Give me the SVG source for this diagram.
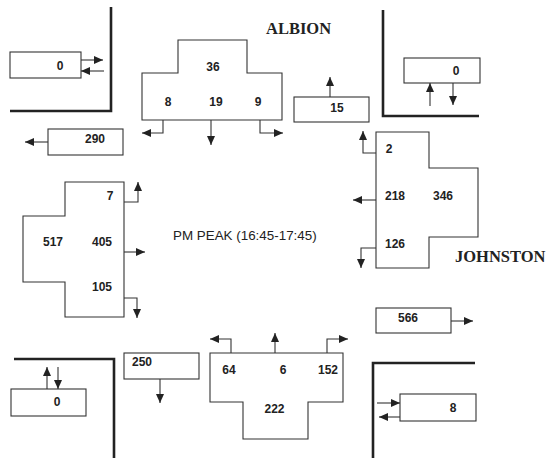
<svg xmlns="http://www.w3.org/2000/svg" width="550" height="458" viewBox="0 0 550 458">
<style>
.bg{fill:#fff}
.box{fill:#fff;stroke:#333;stroke-width:1.1}
.curb{fill:none;stroke:#222;stroke-width:2.6}
.num{font-family:"Liberation Sans",Arial,sans-serif;font-size:12px;font-weight:bold;fill:#222;text-anchor:middle}
.lbl{font-family:"Liberation Sans",Arial,sans-serif;font-size:13.4px;fill:#222}
.street{font-family:"Liberation Serif","Times New Roman",serif;font-size:16.5px;font-weight:bold;fill:#222}
.arr{fill:none;stroke:#333;stroke-width:1.1;marker-end:url(#ah)}
</style>
<defs>
<marker id="ah" markerUnits="userSpaceOnUse" markerWidth="9" markerHeight="8" refX="9" refY="4" orient="auto">
<path d="M0,0 L9,4 L0,8 z" fill="#222"/>
</marker>
</defs>
<rect class="bg" x="0" y="0" width="550" height="458"/>
<g id="curbs">
<path class="curb" d="M111,7 V111 H10"/>
<path class="curb" d="M383,10 V116 H479"/>
<path class="curb" d="M14,359 H114 V458"/>
<path class="curb" d="M475,363 H373 V458"/>
</g>
<g id="street-names">
<text class="street" x="266" y="34">ALBION</text>
<text class="street" x="455" y="262">JOHNSTON</text>
<text class="lbl" x="173" y="240">PM PEAK (16:45-17:45)</text>
</g>
<g id="node-nw-ped">
<rect class="box" x="10" y="52" width="71" height="26"/>
<text class="num" x="60" y="69.5">0</text>
</g>
<g id="node-290">
<rect class="box" x="48" y="129" width="75" height="26"/>
<text class="num" x="95" y="143">290</text>
</g>
<g id="node-albion-sb">
<path class="box" d="M178,40 H247 V73 H282 V120 H142 V73 H178 Z"/>
<text class="num" x="213" y="71">36</text>
<text class="num" x="168" y="106">8</text>
<text class="num" x="216" y="106">19</text>
<text class="num" x="258" y="106">9</text>
</g>
<g id="node-15">
<rect class="box" x="294" y="97" width="75" height="25"/>
<text class="num" x="337" y="112">15</text>
</g>
<g id="node-ne-ped">
<rect class="box" x="404" y="58" width="76" height="25"/>
<text class="num" x="456" y="75">0</text>
</g>
<g id="node-johnston-wb">
<path class="box" d="M376,132 H429 V168 H478 V237 H429 V268 H376 Z"/>
<text class="num" x="389" y="153">2</text>
<text class="num" x="395" y="200">218</text>
<text class="num" x="443" y="200">346</text>
<text class="num" x="395" y="248">126</text>
</g>
<g id="node-johnston-eb">
<path class="box" d="M65,182 H124 V317 H65 V282 H23 V216 H65 Z"/>
<text class="num" x="110" y="200">7</text>
<text class="num" x="53" y="246">517</text>
<text class="num" x="102" y="246">405</text>
<text class="num" x="102" y="291">105</text>
</g>
<g id="node-sw-ped">
<rect class="box" x="11" y="389" width="75" height="27"/>
<text class="num" x="57" y="406">0</text>
</g>
<g id="node-250">
<rect class="box" x="124" y="353" width="75" height="26"/>
<text class="num" x="132" y="366" style="text-anchor:start">250</text>
</g>
<g id="node-albion-nb">
<path class="box" d="M210,353 H343 V402 H308 V439 H243 V402 H210 Z"/>
<text class="num" x="229" y="374">64</text>
<text class="num" x="283" y="374">6</text>
<text class="num" x="328" y="374">152</text>
<text class="num" x="274.5" y="413">222</text>
</g>
<g id="node-566">
<rect class="box" x="376" y="308" width="75" height="25"/>
<text class="num" x="408" y="322">566</text>
</g>
<g id="node-se-ped">
<rect class="box" x="400" y="394" width="76" height="27"/>
<text class="num" x="453" y="412">8</text>
</g>
<g id="connectors">
<path class="arr" d="M81,60 H103"/>
<path class="arr" d="M104,71 H81"/>
<path class="arr" d="M48,142 H25"/>
<path class="arr" d="M163,120 V133 H142"/>
<path class="arr" d="M211,120 V145"/>
<path class="arr" d="M260,120 V133 H283"/>
<path class="arr" d="M330,97 V77"/>
<path class="arr" d="M430,106 V83"/>
<path class="arr" d="M453,83 V105"/>
<path class="arr" d="M376,153 H363 V131"/>
<path class="arr" d="M376,200 H353"/>
<path class="arr" d="M376,248 H361 V268"/>
<path class="arr" d="M124,202 H138 V182"/>
<path class="arr" d="M124,252 H145"/>
<path class="arr" d="M124,298 H137 V318"/>
<path class="arr" d="M47,389 V367"/>
<path class="arr" d="M58,367 V389"/>
<path class="arr" d="M160,379 V403"/>
<path class="arr" d="M231,353 V339 H210"/>
<path class="arr" d="M275,353 V333"/>
<path class="arr" d="M327,353 V339 H348"/>
<path class="arr" d="M451,321 H473"/>
<path class="arr" d="M377,403 H400"/>
<path class="arr" d="M400,417 H379"/>
</g>
</svg>
